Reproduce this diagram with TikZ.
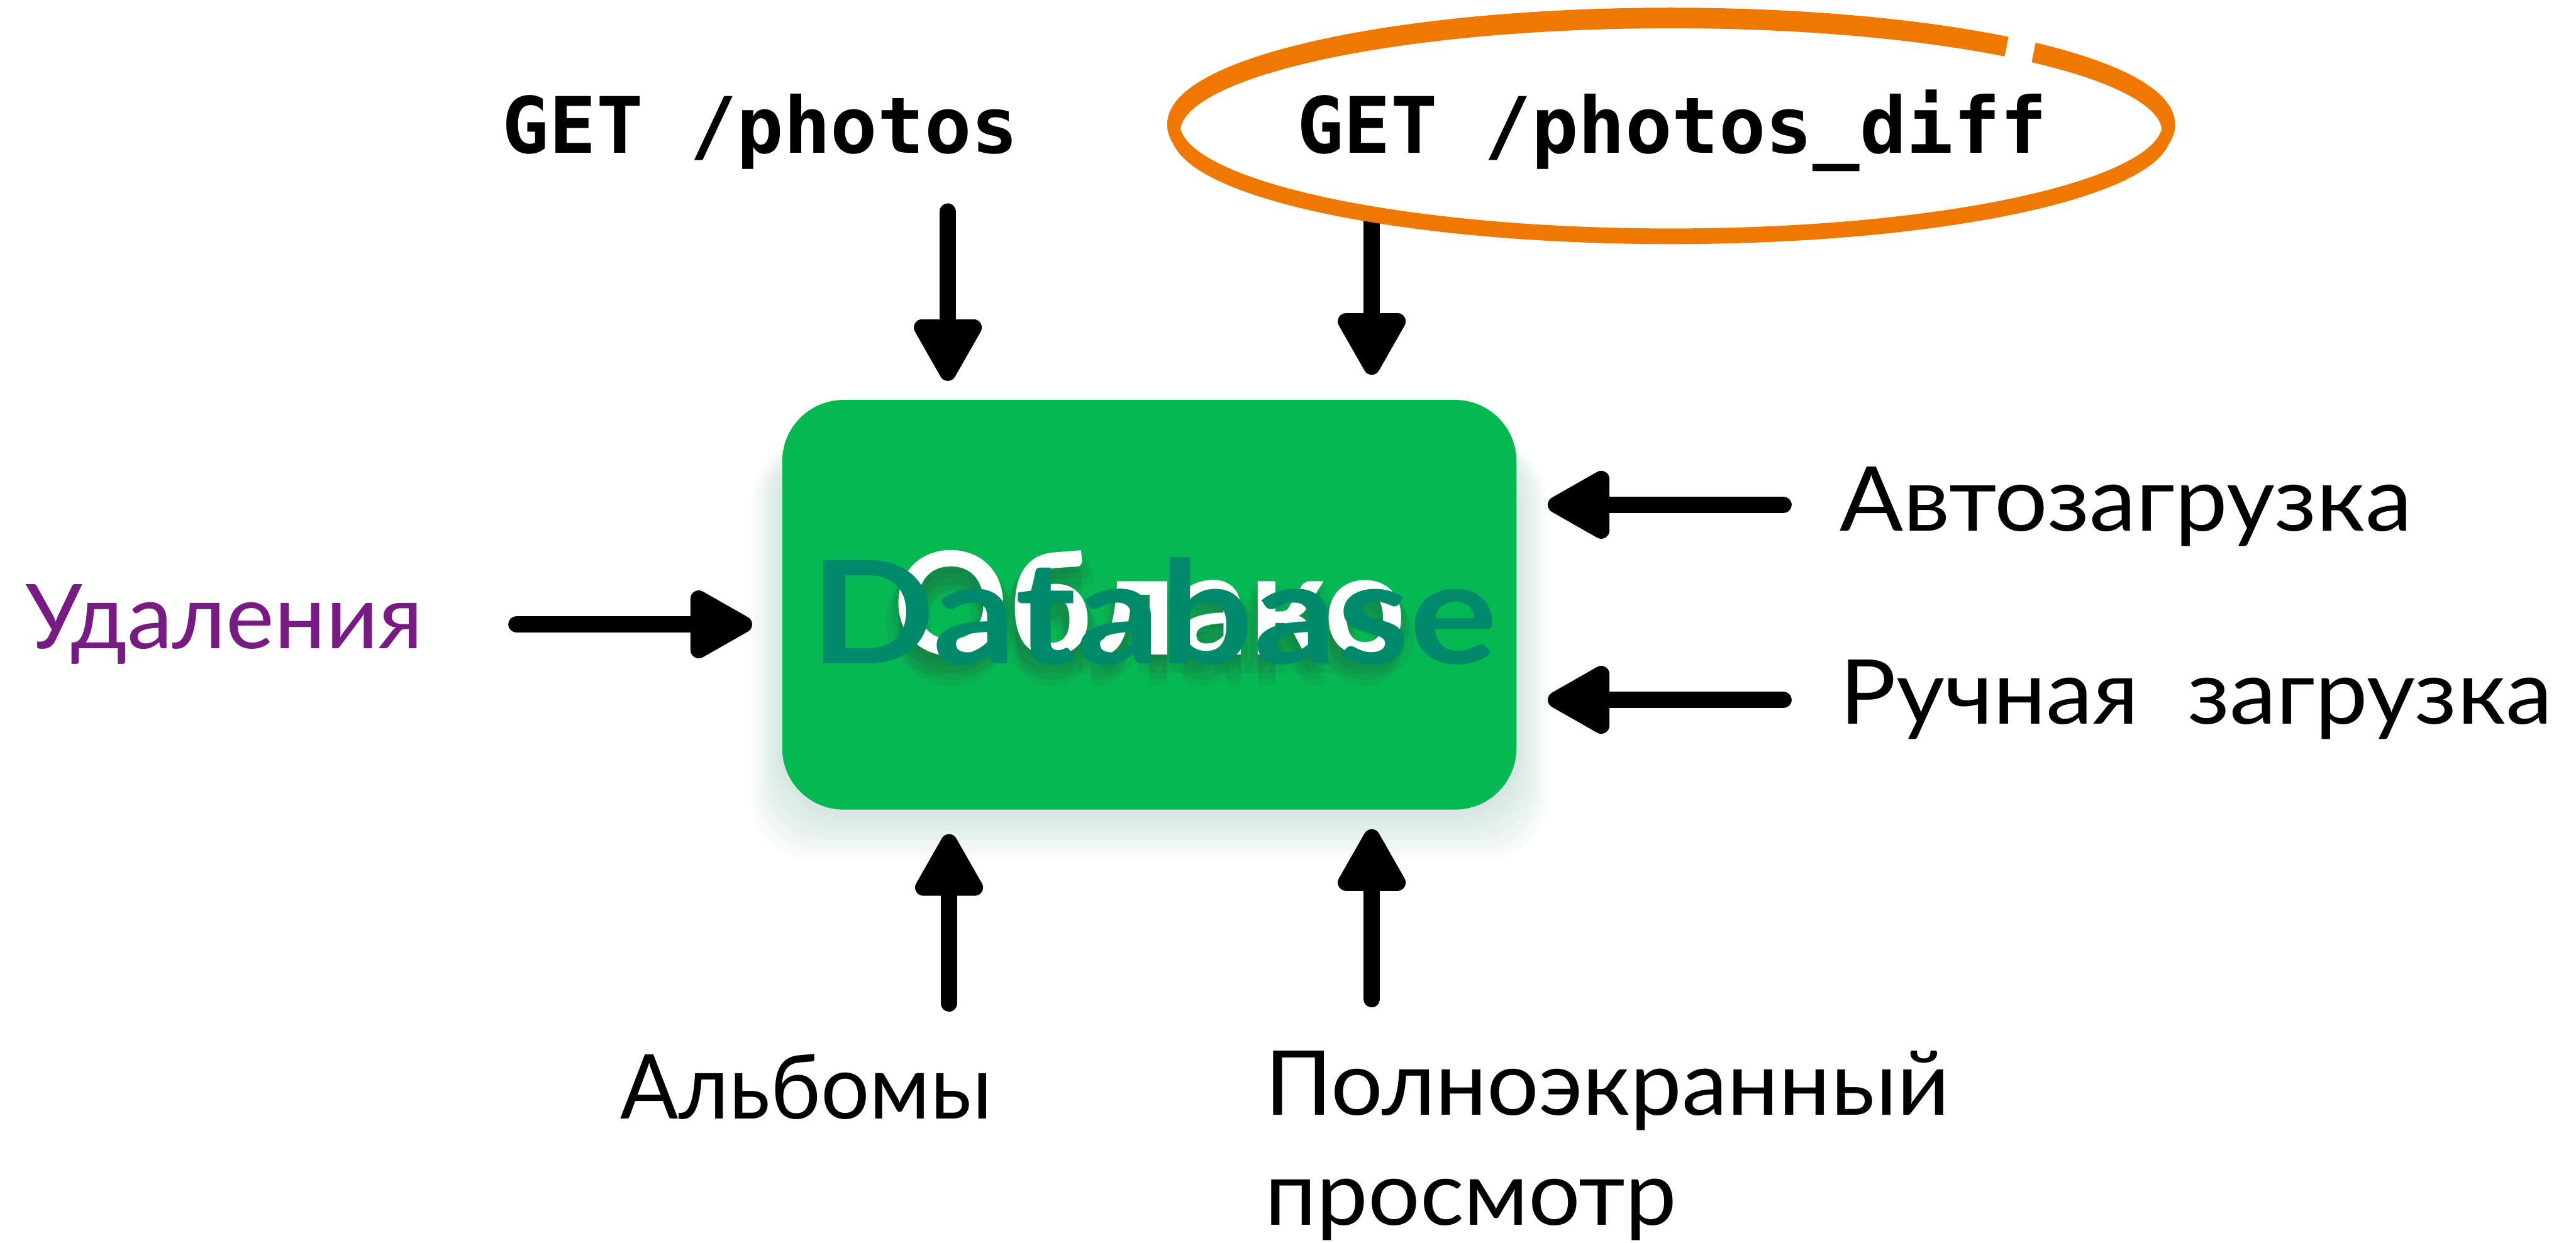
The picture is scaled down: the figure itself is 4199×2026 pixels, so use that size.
\documentclass[tikz,border=0pt]{standalone}
\usepackage{fontspec}
\setmainfont{Lato}
\setmonofont{DejaVu Sans Mono}
\usetikzlibrary{arrows.meta}
\definecolor{boxgreen}{HTML}{06B853}
\definecolor{dbteal}{HTML}{00896A}
\definecolor{lblpurple}{HTML}{771A82}
\definecolor{ringorange}{HTML}{F07800}
\definecolor{shadowc}{HTML}{6FA894}
\definecolor{txtshadow}{HTML}{1F6E45}
\begin{document}
\begin{tikzpicture}[x=0.1pt,y=-0.1pt,
  lbl/.style={font=\fontsize{14.6pt}{17.9pt}\selectfont, inner sep=0pt, anchor=base west},
  code/.style={font=\ttfamily\bfseries\fontsize{12.7pt}{15pt}\selectfont, inner sep=0pt, anchor=base west},
  big/.style={font=\bfseries\fontsize{23.3pt}{28pt}\selectfont, inner sep=0pt, anchor=base},
  brush/.style={line width=2.7pt, line cap=round, -{Triangle[length=11.6pt,width=12.2pt,round]}},
]
\useasboundingbox (0,0) rectangle (4199,2026);

% soft shadow under the box
\foreach \i in {1,...,10}
  \fill[shadowc, opacity=0.03, rounded corners=10pt]
    (1275-\i*5, 720) rectangle (2472+\i*5, 1322+\i*8);

% main box
\node[fill=boxgreen, rounded corners=10pt, minimum width=119.7pt,
      minimum height=66.8pt, inner sep=0pt] (box) at (1873.5,986) {};

% blurred shadow of the white word
\foreach \dx/\dy in {0/12, -12/18, 12/18, 0/28, -20/30, 20/30, 0/40, -8/8, 8/8, 0/50}
  \node[big, txtshadow, opacity=0.13] at (1874+\dx,1068+\dy) {Облако};
\node[big, white] (oblako) at (1874,1068) {Облако};
\node[big, dbteal] (db) at (1880,1082) {\scalebox{1.15}[1]{Database}};

% arrows
\coordinate (t1s) at (1545,345);  \coordinate (t1e) at (1545,621);
\coordinate (t2s) at (2236,355);  \coordinate (t2e) at (2236,611);
\coordinate (ls)  at (842,1018);  \coordinate (le)  at (1226,1018);
\coordinate (r1s) at (2907,823);  \coordinate (r1e) at (2523,823);
\coordinate (r2s) at (2907,1141); \coordinate (r2e) at (2523,1141);
\coordinate (b1s) at (1547,1636); \coordinate (b1e) at (1547,1360);
\coordinate (b2s) at (2236,1629); \coordinate (b2e) at (2236,1352);

\draw[brush] (t1s) -- (t1e);
\draw[brush] (t2s) -- (t2e);
\draw[brush] (ls) -- (le);
\draw[brush] (r1s) -- (r1e);
\draw[brush] (r2s) -- (r2e);
\draw[brush] (b1s) -- (b1e);
\draw[brush] (b2s) -- (b2e);

% hand-drawn orange ring round GET /photos_diff
\draw[ringorange, line width=2.1pt] (2724,203) ellipse [x radius=811, y radius=180];
\draw[ringorange, line width=1.6pt] (2724,214) ellipse [x radius=808, y radius=176];
\draw[white, line width=4.5pt] (3283,130) -- (3307,10);

% top labels
\node[code] (getp) at (817,250) {GET /photos};
\node[code] (getd) at (2112,250) {GET /photos\_diff};

% side and bottom labels
\node[lbl, lblpurple] (del) at (40,1057) {\scalebox{1.02}[1]{Удаления}};
\node[lbl] (auto) at (2997,866) {\scalebox{1.05}[1]{Автозагрузка}};
\node[lbl] (manual) at (2997,1180) {\scalebox{1.05}[1]{Ручная\ \ загрузка}};
\node[lbl] (albums) at (1009,1824) {\scalebox{0.96}[1]{Альбомы}};
\node[lbl, align=left] (full) at (2060,1997) {\scalebox{1.025}[1]{Полноэкранный}\\\scalebox{1.025}[1]{просмотр}};
\end{tikzpicture}
\end{document}
